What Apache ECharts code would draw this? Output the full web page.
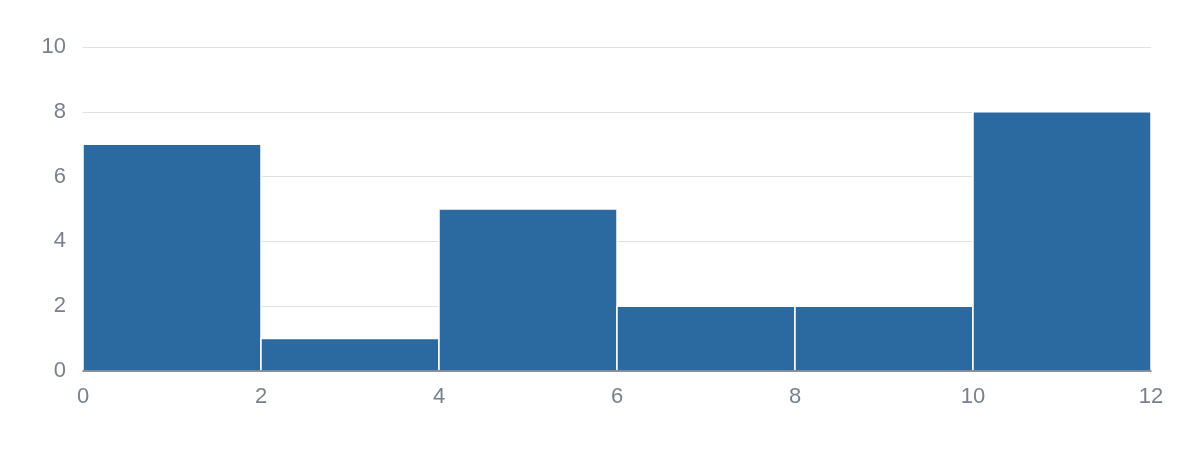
<!DOCTYPE html>
<html><head><meta charset="utf-8">
<script src="https://cdn.jsdelivr.net/npm/echarts@6/dist/echarts.min.js"></script>
<style>html,body{margin:0;padding:0;background:#fff}#c{width:1200px;height:476px}</style>
</head><body><div id="c"></div>
<script>
var binStarts = [0, 2, 4, 6, 8, 10];
var binEnds = [2, 4, 6, 8, 10, 12];
var counts = [7, 1, 5, 2, 2, 8];
var yTicks = [0, 2, 4, 6, 8, 10];
var xTicks = [0, 2, 4, 6, 8, 10, 12];

var data = binStarts.map(function (s, i) { return [s, binEnds[i], counts[i]]; });
var chart = echarts.init(document.getElementById('c'));
chart.setOption({
  animation: false,
  grid: { left: 83, right: 49, top: 47, bottom: 105 },
  xAxis: {
    type: 'value', min: xTicks[0], max: xTicks[xTicks.length - 1], interval: 2,
    axisLine: { show: true, lineStyle: { color: '#6e7079', width: 1.5 } },
    axisTick: { show: false },
    splitLine: { show: false },
    z: 10,
    axisLabel: { color: '#77818f', fontSize: 22, fontFamily: 'Liberation Sans', margin: 15 }
  },
  yAxis: {
    type: 'value', min: yTicks[0], max: yTicks[yTicks.length - 1], interval: 2,
    axisLine: { show: false }, axisTick: { show: false },
    splitLine: { lineStyle: { color: '#e0e0e6' } },
    axisLabel: { color: '#77818f', fontSize: 22, fontFamily: 'Liberation Sans', margin: 17 }
  },
  series: [{
    type: 'custom',
    data: data,
    encode: { x: [0, 1], y: 2 },
    z: 2,
    renderItem: function (params, api) {
      var p0 = api.coord([api.value(0), api.value(2)]);
      var p1 = api.coord([api.value(1), 0]);
      return {
        type: 'rect',
        shape: { x: p0[0], y: p0[1], width: p1[0] - p0[0], height: p1[1] - p0[1] },
        style: { fill: '#2a6aa1', stroke: '#ffffff', lineWidth: 1.5 }
      };
    }
  }]
});
</script></body></html>
